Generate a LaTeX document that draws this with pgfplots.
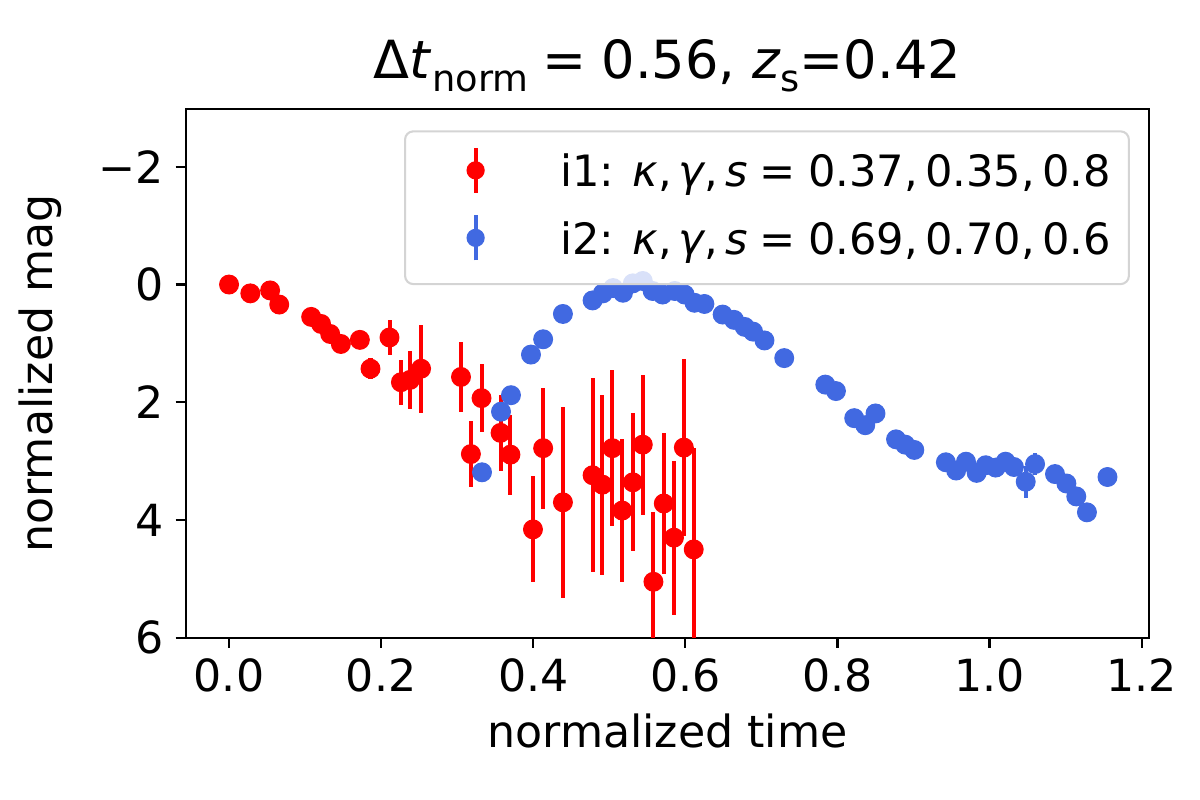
\documentclass[border=0pt]{standalone}
\usepackage{fontspec}
\setmainfont{DejaVu Sans}
\usepackage{pgfplots}
\pgfplotsset{compat=1.18}
\usepackage{pgfplotstable}
\definecolor{myblue}{RGB}{65,105,225}
\newcommand\sub[2]{\raisebox{-0.24em}{\fontsize{#2}{#2}\selectfont #1}}
\newcommand\thk{\hspace{0.278em}}
\newcommand\thn{\hspace{0.167em}}

\pgfplotstableread{
x y e
0.000 0.00 0.02
0.028 0.15 0.02
0.054 0.10 0.03
0.066 0.34 0.03
0.108 0.55 0.04
0.121 0.67 0.04
0.133 0.84 0.05
0.147 1.01 0.05
0.172 0.94 0.06
0.186 1.43 0.18
0.211 0.90 0.29
0.226 1.66 0.38
0.238 1.62 0.49
0.2525 1.43 0.75
0.305 1.57 0.60
0.318 2.88 0.56
0.332 1.93 0.58
0.357 2.52 0.65
0.370 2.89 0.68
0.3996 4.16 0.90
0.413 2.78 1.03
0.439 3.70 1.62
0.478 3.24 1.65
0.491 3.40 1.53
0.504 2.78 1.33
0.517 3.84 1.22
0.531 3.36 1.17
0.544 2.72 1.19
0.558 5.05 1.19
0.5716 3.72 1.19
0.585 4.30 1.31
0.598 2.77 1.50
0.611 4.50 1.73
}\redtab

\pgfplotstableread{
x y e
0.3326 3.19 0.03
0.3576 2.16 0.03
0.3707 1.88 0.03
0.397 1.19 0.02
0.413 0.93 0.02
0.439 0.50 0.02
0.478 0.27 0.02
0.4915 0.15 0.02
0.505 0.06 0.02
0.518 0.14 0.02
0.531 -0.02 0.02
0.544 -0.06 0.02
0.557 0.11 0.02
0.570 0.17 0.02
0.586 0.11 0.02
0.599 0.17 0.02
0.612 0.31 0.02
0.625 0.33 0.02
0.649 0.51 0.02
0.664 0.60 0.02
0.678 0.72 0.02
0.689 0.80 0.02
0.704 0.95 0.02
0.730 1.25 0.02
0.784 1.70 0.02
0.798 1.81 0.02
0.822 2.27 0.02
0.8365 2.39 0.02
0.850 2.19 0.02
0.877 2.63 0.02
0.889 2.72 0.02
0.901 2.81 0.02
0.9425 3.02 0.03
0.956 3.16 0.03
0.969 3.01 0.03
0.983 3.20 0.03
0.995 3.07 0.03
1.008 3.11 0.03
1.021 3.01 0.16
1.032 3.10 0.12
1.0475 3.35 0.27
1.0598 3.05 0.19
1.086 3.22 0.03
1.101 3.38 0.03
1.114 3.60 0.03
1.128 3.87 0.03
1.155 3.27 0.03
}\bluetab

\begin{document}
\begin{tikzpicture}
\path[use as bounding box] (-67.1pt,-58.65pt) rectangle ++(433.62pt,289.08pt);
\begin{axis}[
  at={(0,0)}, anchor=south west,
  scale only axis,
  width=348.2pt, height=191.0pt,
  xmin=-0.057, xmax=1.21,
  ymin=-2.98, ymax=6,
  y dir=reverse,
  xtick={0,0.2,0.4,0.6,0.8,1.0,1.2},
  xticklabels={0.0,0.2,0.4,0.6,0.8,1.0,1.2},
  ytick={-2,0,2,4,6},
  yticklabels={−2,0,2,4,6},
  minor tick num=0,
  tick pos=left,
  tick align=outside,
  major tick length=3.6pt,
  tick style={black, line width=0.8pt},
  axis line style={line width=0.8pt},
  ticklabel style={font=\fontsize{16}{19}\selectfont, inner sep=0pt},
  xticklabel style={anchor=north, yshift=-3.6pt},
  yticklabel style={anchor=east, xshift=-4.2pt},
  xlabel={normalized time},
  ylabel={normalized mag},
  every axis x label/.style={at={(axis description cs:0.5,-0.207)}, anchor=base,
    font=\fontsize{16}{19}\selectfont, inner sep=0pt},
  every axis y label/.style={at={(axis description cs:-0.138,0.5)}, rotate=90, anchor=base,
    font=\fontsize{16}{19}\selectfont, inner sep=0pt},
  title={\fontsize{19}{22}\selectfont Δ\textit{t}\sub{norm}{13.3}\thk=\thk0.56, \textit{z}\sub{s}{13.3}=0.42},
  title style={at={(axis description cs:0.5,1)}, anchor=base, yshift=5.1pt, inner sep=0pt},
  legend style={at={(1,1)}, anchor=north east, xshift=-7pt, yshift=-7.65pt,
    draw=black!17, line width=0.75pt, rounded corners=3pt,
    fill=white, fill opacity=0.8, text opacity=1,
    inner xsep=6.5pt, inner ysep=3.2pt,
    font=\fontsize{15.6}{19}\selectfont,
    nodes={inner sep=0pt, text depth=0pt},
    row sep=0pt, column sep=0pt},
  legend cell align=left,
]
\addplot[only marks, mark=*, mark size=3.4pt, color=red, mark options={draw=red, fill=red},
  legend image code/.code={
    \path[draw=none, fill=none] (0pt,-13.5pt) rectangle (49.6pt,10.9pt);
    \draw[red, line width=1.45pt, rounded corners=0pt, draw opacity=1] (19pt,-8.1pt) -- (19pt,8.1pt);
    \fill[red, draw=none, fill opacity=1] (19pt,0pt) circle (3.3pt);
  },
  error bars/.cd, y dir=both, y explicit, error mark=none,
  error bar style={line width=1.45pt, red}]
  table[x=x, y=y, y error=e] {\redtab};
\addlegendentry{i1: \textit{κ},\thn\textit{γ},\thn\textit{s}\thk=\thk0.37,\thn0.35,\thn0.8}
\addplot[only marks, mark=*, mark size=3.4pt, color=myblue, mark options={draw=myblue, fill=myblue},
  legend image code/.code={
    \path[draw=none, fill=none] (0pt,-13.5pt) rectangle (49.6pt,10.9pt);
    \draw[myblue, line width=1.45pt, rounded corners=0pt, draw opacity=1] (19pt,-8.1pt) -- (19pt,8.1pt);
    \fill[myblue, draw=none, fill opacity=1] (19pt,0pt) circle (3.3pt);
  },
  error bars/.cd, y dir=both, y explicit, error mark=none,
  error bar style={line width=1.45pt, myblue}]
  table[x=x, y=y, y error=e] {\bluetab};
\addlegendentry{i2: \textit{κ},\thn\textit{γ},\thn\textit{s}\thk=\thk0.69,\thn0.70,\thn0.6}
\end{axis}
\end{tikzpicture}
\end{document}
